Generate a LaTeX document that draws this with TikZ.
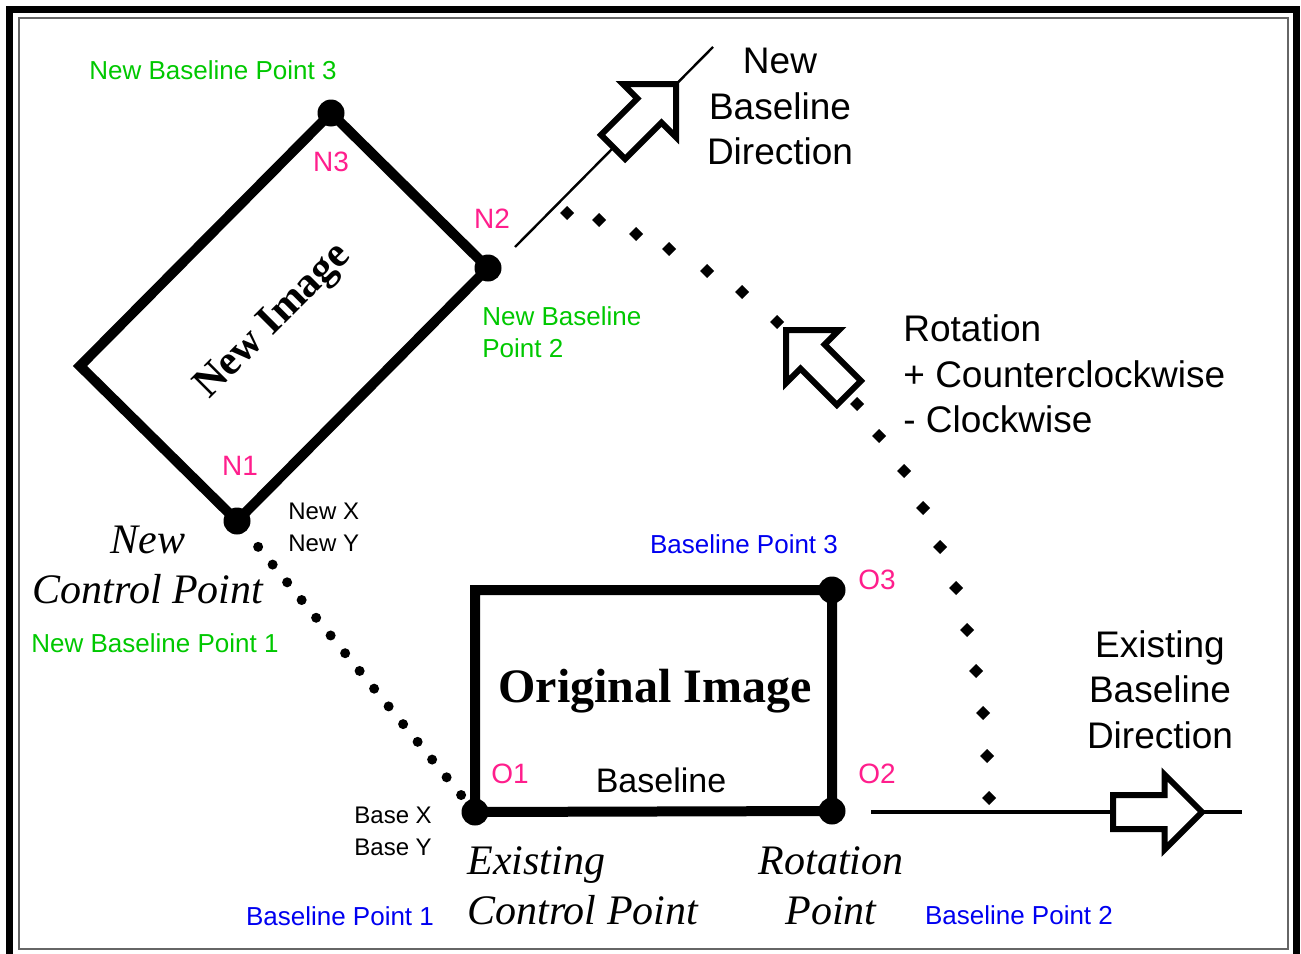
\documentclass[tikz,border=0pt]{standalone}
\usepackage{fontspec}
\setmainfont{Liberation Sans}
\newfontfamily\timesfont{Liberation Serif}
\definecolor{ptgreen}{RGB}{0,200,0}
\definecolor{ptblue}{RGB}{0,0,240}
\definecolor{ptpink}{RGB}{255,30,140}
\tikzset{
  blockarrow/.pic={
    \draw[line width=3pt,fill=white] (0,0) -- (-37.5,37.5) -- (-37.5,17) -- (-89,17)
      -- (-89,-17) -- (-37.5,-17) -- (-37.5,-37.5) -- cycle;
  }
}
\begin{document}
\begin{tikzpicture}[x=0.5pt,y=-0.5pt,
    dot/.style={circle,fill,inner sep=0pt,minimum size=13.5pt},
    imgedge/.style={line width=5pt},
    lbl/.style={inner sep=0pt,anchor=base},
    smalltxt/.style={font=\fontsize{13}{16}\selectfont},
    pinktxt/.style={lbl,text=ptpink,font=\fontsize{14}{16}\selectfont},
    greentxt/.style={lbl,smalltxt,text=ptgreen},
    bluetxt/.style={lbl,smalltxt,text=ptblue},
    coordtxt/.style={inner sep=0pt,anchor=west,align=left,font=\fontsize{12}{16}\selectfont},
    bigtxt/.style={inner sep=0pt,font=\fontsize{18.5}{22.75}\selectfont},
    ittxt/.style={inner sep=0pt,font=\timesfont\itshape\fontsize{21}{25}\selectfont},
    bftxt/.style={inner sep=0pt,font=\timesfont\bfseries\fontsize{24}{28}\selectfont}]

  \useasboundingbox (0,0) rectangle (1301,953);
  % frame
  \draw[line width=3.5pt] (9.5,9.5) rectangle (1296,990);
  \draw[black!60,line width=1pt] (18.5,18) rectangle (1288,949);

  % corner points
  \node[dot] (N1) at (237,521) {};
  \node[dot] (N2) at (488,268) {};
  \node[dot] (N3) at (331,113) {};
  \coordinate (N4) at (80,366);
  \node[dot] (O1) at (475,812) {};
  \node[dot] (O2) at (832,811) {};
  \node[dot] (O3) at (832,590) {};
  \coordinate (O4) at (475,590);

  \draw[imgedge] (N1.center) -- (N2.center) -- (N3.center) -- (N4) -- cycle;
  \draw[imgedge] (O1.center) -- (O2.center) -- (O3.center) -- (O4) -- cycle;

  % control point link
  \draw[line width=5pt,line cap=round,dash pattern=on 0pt off 11.45pt,shorten <=9.75pt] (N1) -- (O1);

  % baselines
  \coordinate (nbA) at (515,247);
  \coordinate (nbB) at (713,47);
  \draw[line width=1.2pt] (nbA) -- (nbB);
  \coordinate (ebA) at (871,812);
  \coordinate (ebB) at (1242,812);
  \draw[line width=1.6pt] (ebA) -- (ebB);

  % rotation path
  \foreach \px/\py in {567/213,599/220,636/234,669/249,707/271,742/292,777/322,
      857/404,879/436,904/471,923/508,940/547,956/588,967/630,976/671,983/713,987/756,989/798}
    \fill (\px,\py) +(-7,0) -- +(0,-7) -- +(7,0) -- +(0,7) -- cycle;

  \pic[rotate=45] at (676,84) {blockarrow};
  \pic[rotate=135] at (786,330) {blockarrow};
  \pic at (1202,812) {blockarrow};

  % labels
  \node[greentxt] (nbp3) at (213,79) {New Baseline Point 3};
  \node[pinktxt] (n3) at (331,171) {N3};
  \node[pinktxt] (n2) at (492,228) {N2};
  \node[inner sep=0pt,anchor=west,align=left,smalltxt,text=ptgreen] (nbp2) at (482,332) {New Baseline\\Point 2};
  \node[pinktxt] (n1) at (240,475) {N1};
  \node[coordtxt] (newxy) at (288,527) {New X\\New Y};
  \node[ittxt,align=center] (newcp) at (148,565) {New\\Control Point};
  \node[greentxt] (nbp1) at (155,652) {New Baseline Point 1};
  \node[bftxt,font=\timesfont\bfseries\fontsize{21}{25}\selectfont,rotate=45] (newimg) at (274,322) {New Image};
  \node[bluetxt] (bp3) at (744,553) {Baseline Point 3};
  \node[pinktxt] (o3) at (877,589) {O3};
  \node[bftxt,anchor=base] (origimg) at (655,702) {Original Image};
  \node[pinktxt] (o1) at (510,783) {O1};
  \node[lbl,font=\fontsize{17}{20}\selectfont] (bl) at (661,792) {Baseline};
  \node[pinktxt] (o2) at (877,783) {O2};
  \node[coordtxt] (basexy) at (354,831) {Base X\\Base Y};
  \node[ittxt,anchor=west,align=left] (excp) at (467,886) {Existing\\Control Point};
  \node[ittxt,align=center] (rotp) at (831,886) {Rotation\\Point};
  \node[bluetxt] (bp1) at (340,925) {Baseline Point 1};
  \node[bluetxt] (bp2) at (1019,924) {Baseline Point 2};
  \node[bigtxt,align=center] (newdir) at (780,106.5) {New\\Baseline\\Direction};
  \node[bigtxt,anchor=west,align=left] (rottxt) at (903,374) {Rotation\\+ Counterclockwise\\- Clockwise};
  \node[bigtxt,align=center] (exdir) at (1160,689.5) {Existing\\Baseline\\Direction};
\end{tikzpicture}
\end{document}
